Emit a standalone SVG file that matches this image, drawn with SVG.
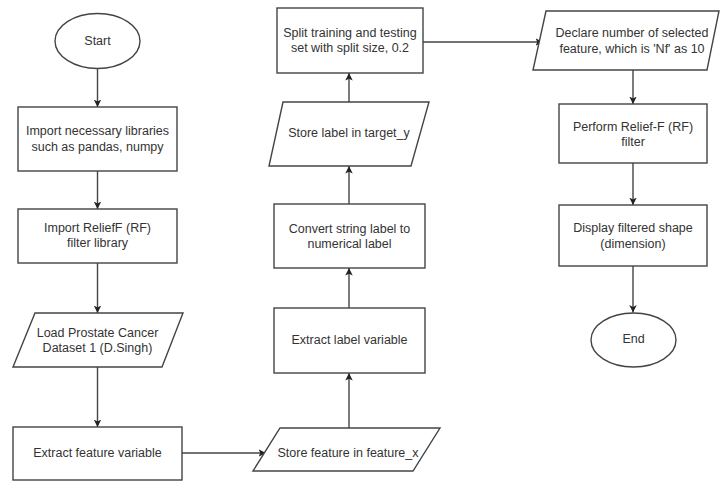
<svg xmlns="http://www.w3.org/2000/svg" width="720" height="482" viewBox="0 0 720 482">
  <style>
    .shape { fill: #ffffff; stroke: #444444; stroke-width: 1.4; }
    .label { font-family: "Liberation Sans", Arial, sans-serif; font-size: 12.5px; fill: #333333; text-anchor: middle; dominant-baseline: central; }
    .edge { fill: none; stroke: #444444; stroke-width: 1.4; marker-end: url(#arrow); }
  </style>
  <defs>
    <marker id="arrow" viewBox="0 0 10 10" refX="10" refY="5" markerWidth="7.5" markerHeight="7.5" markerUnits="userSpaceOnUse" orient="auto">
      <path d="M0,0 L10,5 L0,10 L2.5,5 Z" fill="#222222"/>
    </marker>
  </defs>
  <rect width="720" height="482" fill="#ffffff"/>

  <g id="connectors">
    <path class="edge" d="M97.5,68.5 L97.5,107"/>
    <path class="edge" d="M97.5,171 L97.5,209"/>
    <path class="edge" d="M97.5,263 L97.5,313"/>
    <path class="edge" d="M97.5,367 L97.5,427"/>
    <path class="edge" d="M182,453 L266,453"/>
    <path class="edge" d="M349,428 L349,373"/>
    <path class="edge" d="M349,308 L349,268"/>
    <path class="edge" d="M349,204 L349,166"/>
    <path class="edge" d="M349,102 L349,73"/>
    <path class="edge" d="M423,42 L543,42"/>
    <path class="edge" d="M633,70 L633,104"/>
    <path class="edge" d="M633,163 L633,205"/>
    <path class="edge" d="M633,266 L633,312.5"/>
  </g>

  <g id="start">
    <ellipse class="shape" cx="97.5" cy="41" rx="42.5" ry="27.5"/>
    <text class="label" x="97.5" y="41">Start</text>
  </g>
  <g id="import-libraries">
    <rect class="shape" x="18" y="107" width="159" height="64"/>
    <text class="label" x="97.5" y="131">Import necessary libraries</text>
    <text class="label" x="97.5" y="147">such as pandas, numpy</text>
  </g>
  <g id="import-relieff">
    <rect class="shape" x="18" y="209" width="159" height="54"/>
    <text class="label" x="97.5" y="228">Import ReliefF (RF)</text>
    <text class="label" x="97.5" y="243">filter library</text>
  </g>
  <g id="load-dataset">
    <polygon class="shape" points="35,313 183,313 162,367 13,367"/>
    <text class="label" x="97.5" y="333">Load Prostate Cancer</text>
    <text class="label" x="97.5" y="348">Dataset 1 (D.Singh)</text>
  </g>
  <g id="extract-feature">
    <rect class="shape" x="13" y="427" width="169" height="53"/>
    <text class="label" x="97.5" y="453">Extract feature variable</text>
  </g>
  <g id="store-feature">
    <polygon class="shape" points="280,428 440,428 413,471 253,471"/>
    <text class="label" x="348" y="453">Store feature in feature_x</text>
  </g>
  <g id="extract-label">
    <rect class="shape" x="274" y="308" width="151" height="65"/>
    <text class="label" x="349.5" y="340">Extract label variable</text>
  </g>
  <g id="convert-label">
    <rect class="shape" x="274" y="204" width="151" height="64"/>
    <text class="label" x="349.5" y="229">Convert string label to</text>
    <text class="label" x="349.5" y="244">numerical label</text>
  </g>
  <g id="store-label">
    <polygon class="shape" points="283,102 429,102 411,166 269,166"/>
    <text class="label" x="349" y="133">Store label in target_y</text>
  </g>
  <g id="split-set">
    <rect class="shape" x="277" y="8" width="146" height="65"/>
    <text class="label" x="350" y="33">Split training and testing</text>
    <text class="label" x="350" y="48">set with split size, 0.2</text>
  </g>
  <g id="declare-nf">
    <polygon class="shape" points="546,11 719,11 707,70 533,70"/>
    <text class="label" x="632" y="33">Declare number of selected</text>
    <text class="label" x="632" y="49">feature, which is 'Nf' as 10</text>
  </g>
  <g id="perform-relieff">
    <rect class="shape" x="559" y="104" width="148" height="59"/>
    <text class="label" x="633" y="127">Perform Relief-F (RF)</text>
    <text class="label" x="633" y="142">filter</text>
  </g>
  <g id="display-shape">
    <rect class="shape" x="559" y="205" width="148" height="61"/>
    <text class="label" x="633" y="228">Display filtered shape</text>
    <text class="label" x="633" y="244">(dimension)</text>
  </g>
  <g id="end">
    <ellipse class="shape" cx="633.5" cy="340" rx="42.5" ry="27"/>
    <text class="label" x="633.5" y="339">End</text>
  </g>
</svg>
